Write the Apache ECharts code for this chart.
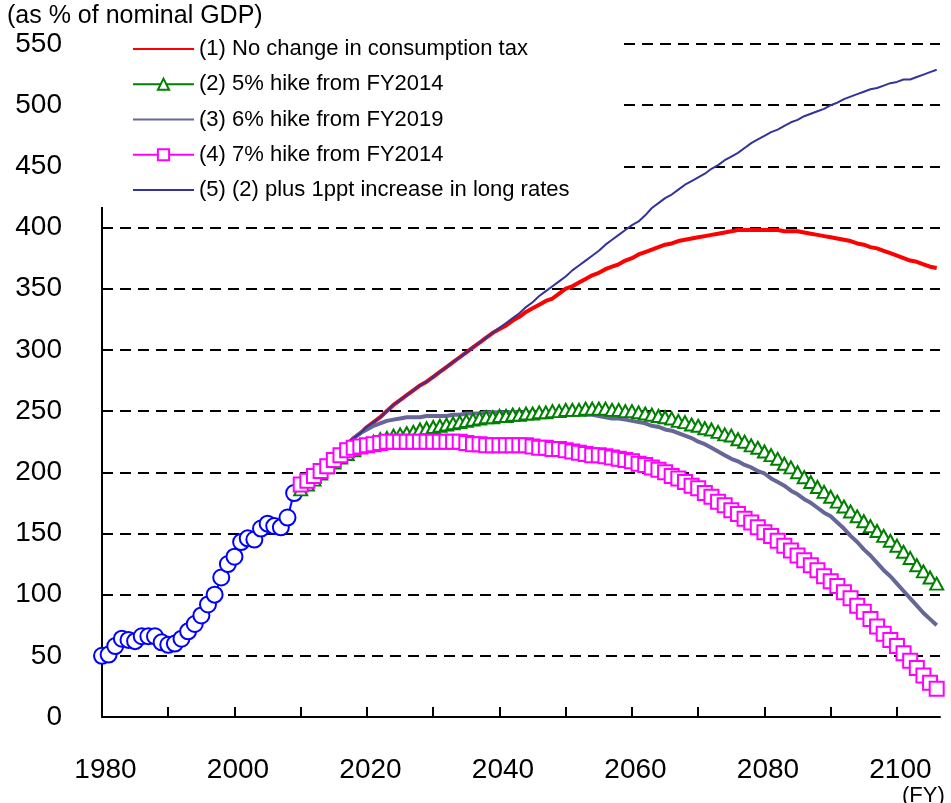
<!DOCTYPE html>
<html>
<head>
<meta charset="utf-8">
<script src="https://cdn.jsdelivr.net/npm/echarts@6/dist/echarts.min.js"></script>
<style>
  html, body { margin: 0; padding: 0; background: #fff; }
  #chart { width: 951px; height: 803px; }
</style>
</head>
<body>
<div id="chart"></div>
<script>
// 実績 FY1980-2009
const histStart = 1980
const histValues = [50, 51, 58, 64, 63, 62, 66, 66, 66, 61,
  59, 60, 64, 70, 76, 83, 92, 100, 114, 125,
  131, 143, 146, 145, 154, 158, 156, 155, 163, 183]

// projections FY2010-2106
const projStart = 2010
const noChange = [188, 191, 194, 199, 204, 211, 217, 223, 228, 232,
  237, 241, 245, 250, 255, 259, 263, 267, 271, 274,
  278, 282, 286, 290, 294, 298, 302, 306, 310, 314,
  317, 320, 324, 327, 331, 334, 337, 340, 342, 346,
  350, 352, 355, 358, 361, 363, 366, 368, 370, 373,
  375, 378, 380, 382, 384, 386, 387, 389, 390, 391,
  392, 393, 394, 395, 396, 397, 398, 398, 398, 398,
  398, 398, 398, 397, 397, 397, 396, 395, 394, 393,
  392, 391, 390, 389, 387, 386, 384, 383, 381, 379,
  377, 375, 373, 372, 370, 368, 367]
const hike5 = [186, 190, 194, 199, 204, 208, 212, 215, 218, 221,
  223, 225, 227, 228, 230, 231, 232, 233, 235, 236,
  237, 238, 239, 240, 241, 242, 243, 244, 245, 245,
  246, 246, 247, 247, 248, 248, 249, 249, 250, 250,
  251, 251, 251, 252, 252, 252, 252, 251, 251, 250,
  250, 249, 248, 247, 246, 245, 244, 242, 241, 239,
  238, 236, 235, 233, 231, 230, 227, 225, 222, 220,
  217, 214, 211, 207, 204, 200, 196, 192, 188, 184,
  180, 176, 172, 168, 164, 160, 156, 152, 148, 144,
  140, 135, 130, 124, 119, 114, 109]
const hike6 = [188, 191, 194, 199, 204, 211, 217, 223, 228, 232,
  235, 238, 240, 242, 243, 244, 245, 245, 245, 246,
  246, 246, 246, 247, 247, 248, 248, 248, 249, 249,
  249, 249, 249, 249, 249, 249, 249, 249, 249, 249,
  249, 248, 248, 247, 247, 246, 245, 244, 244, 243,
  242, 241, 240, 238, 237, 235, 234, 232, 230, 228,
  225, 223, 220, 217, 214, 211, 209, 206, 204, 201,
  199, 195, 192, 189, 185, 182, 178, 175, 171, 167,
  164, 159, 154, 148, 143, 137, 132, 126, 120, 115,
  109, 103, 97, 91, 85, 80, 75]
const hike7 = [190, 193, 197, 201, 205, 210, 214, 218, 220, 221,
  222, 223, 224, 225, 225, 225, 225, 225, 225, 225,
  225, 225, 225, 225, 225, 224, 223, 223, 222, 222,
  222, 222, 222, 222, 222, 221, 220, 220, 219, 219,
  218, 217, 216, 215, 214, 214, 213, 212, 211, 210,
  209, 207, 206, 204, 202, 200, 197, 195, 192, 189,
  187, 183, 180, 176, 173, 169, 166, 162, 159, 155,
  151, 148, 144, 140, 136, 132, 128, 124, 120, 115,
  111, 107, 102, 97, 91, 86, 80, 74, 68, 63,
  58, 52, 46, 40, 34, 28, 23]
const longRates = [188, 191, 194, 199, 204, 211, 217, 223, 228, 232,
  237, 241, 245, 250, 255, 259, 263, 267, 271, 274,
  278, 282, 286, 290, 294, 298, 302, 306, 310, 314,
  318, 322, 326, 330, 335, 339, 344, 348, 352, 356,
  360, 365, 369, 373, 377, 381, 386, 390, 394, 398,
  402, 405, 410, 416, 420, 424, 427, 431, 435, 438,
  441, 444, 448, 451, 455, 458, 461, 465, 469, 472,
  475, 478, 480, 483, 486, 488, 491, 493, 495, 497,
  500, 502, 505, 507, 509, 511, 513, 514, 516, 518,
  519, 521, 521, 523, 525, 527, 529]

const seriesNames = [
  '(1) No change in consumption tax',
  '(2) 5% hike from FY2014',
  '(3) 6% hike from FY2019',
  '(4) 7% hike from FY2014',
  '(5) (2) plus 1ppt increase in long rates'
]
const xTickValues = [1990, 2000, 2010, 2020, 2030, 2040, 2050, 2060, 2070, 2080, 2090, 2100]
const xLabelValues = [1980, 2000, 2020, 2040, 2060, 2080, 2100]

const FONT = 'Liberation Sans, Arial, sans-serif'

const toPairs = (start, arr) => arr.map((v, i) => [start + i, v])

// line-only series: hide the legend marker, keep the line
const noMarker = { opacity: 0, borderWidth: 0 }

const chart = echarts.init(document.getElementById('chart'))

const option = {
  animation: false,
  backgroundColor: '#fff',
  textStyle: { fontFamily: FONT, color: '#000' },
  title: {
    text: '(as % of nominal GDP)',
    left: 7,
    top: 4,
    padding: 0,
    textStyle: { fontFamily: FONT, fontSize: 25, fontWeight: 'normal', color: '#000' }
  },
  grid: { left: 102, right: 11, top: 44, bottom: 86 },
  xAxis: {
    type: 'value',
    min: 1980,
    max: 2106.5,
    interval: 10,
    axisLine: { lineStyle: { color: '#000', width: 2 } },
    axisTick: {
      show: true,
      inside: true,
      length: 10,
      customValues: xTickValues,
      lineStyle: { color: '#000', width: 2 }
    },
    axisLabel: {
      customValues: xLabelValues,
      formatter: (v) => String(v),
      fontSize: 28,
      color: '#000',
      fontFamily: FONT,
      margin: 39,
      padding: [0, 0, 0, 7]
    },
    splitLine: { show: false }
  },
  yAxis: {
    type: 'value',
    min: 0,
    max: 550,
    interval: 50,
    axisLine: { show: true, lineStyle: { color: '#000', width: 2 } },
    axisTick: { show: false },
    axisLabel: { fontSize: 28, color: '#000', fontFamily: FONT, margin: 40, padding: [6, 0, 0, 0] },
    splitLine: { lineStyle: { color: '#000', width: 2, type: [11, 7] } }
  },
  legend: {
    orient: 'vertical',
    left: 132,
    top: 38,
    padding: 0,
    itemWidth: 61,
    itemHeight: 14,
    itemGap: 13.25,
    selectedMode: false,
    data: [
      { name: seriesNames[0], itemStyle: noMarker },
      { name: seriesNames[1] },
      { name: seriesNames[2], itemStyle: noMarker },
      { name: seriesNames[3] },
      { name: seriesNames[4], itemStyle: noMarker }
    ],
    lineStyle: { width: 2 },
    textStyle: { fontSize: 22, color: '#000', fontFamily: FONT }
  },
  graphic: [
    {
      // white box behind the legend (hides gridlines and axis top)
      type: 'rect',
      z: 3,
      shape: { x: 94, y: 34, width: 527, height: 173 },
      style: { fill: '#fff' }
    },
    {
      type: 'text',
      left: 902,
      top: 785,
      style: { text: '(FY)', fontSize: 22, fontFamily: FONT, fill: '#000' }
    }
  ],
  series: [
    {
      name: 'Actual',
      type: 'line',
      data: toPairs(histStart, histValues),
      symbol: 'circle',
      symbolSize: 16,
      showAllSymbol: true,
      lineStyle: { color: '#0000ff', width: 2 },
      itemStyle: { color: '#fff', borderColor: '#0000ff', borderWidth: 2 }
    },
    {
      name: seriesNames[0],
      type: 'line',
      data: toPairs(projStart, noChange),
      symbol: 'none',
      lineStyle: { color: '#ff0000', width: 4 },
      itemStyle: { color: '#ff0000' }
    },
    {
      name: seriesNames[1],
      type: 'line',
      data: toPairs(projStart, hike5),
      symbol: 'triangle',
      symbolSize: [13, 12],
      showAllSymbol: true,
      lineStyle: { color: '#008000', width: 2 },
      itemStyle: { color: '#fff', borderColor: '#008000', borderWidth: 2 }
    },
    {
      name: seriesNames[2],
      type: 'line',
      data: toPairs(projStart, hike6),
      symbol: 'none',
      lineStyle: { color: '#666699', width: 4 },
      itemStyle: { color: '#666699' }
    },
    {
      name: seriesNames[3],
      type: 'line',
      data: toPairs(projStart, hike7),
      symbol: 'rect',
      symbolSize: 14,
      showAllSymbol: true,
      lineStyle: { color: '#ff00ff', width: 2 },
      itemStyle: { color: '#fff', borderColor: '#ff00ff', borderWidth: 2 }
    },
    {
      name: seriesNames[4],
      type: 'line',
      data: toPairs(projStart, longRates),
      symbol: 'none',
      lineStyle: { color: '#333399', width: 2 },
      itemStyle: { color: '#333399' }
    }
  ]
}

chart.setOption(option)
</script>
</body>
</html>
